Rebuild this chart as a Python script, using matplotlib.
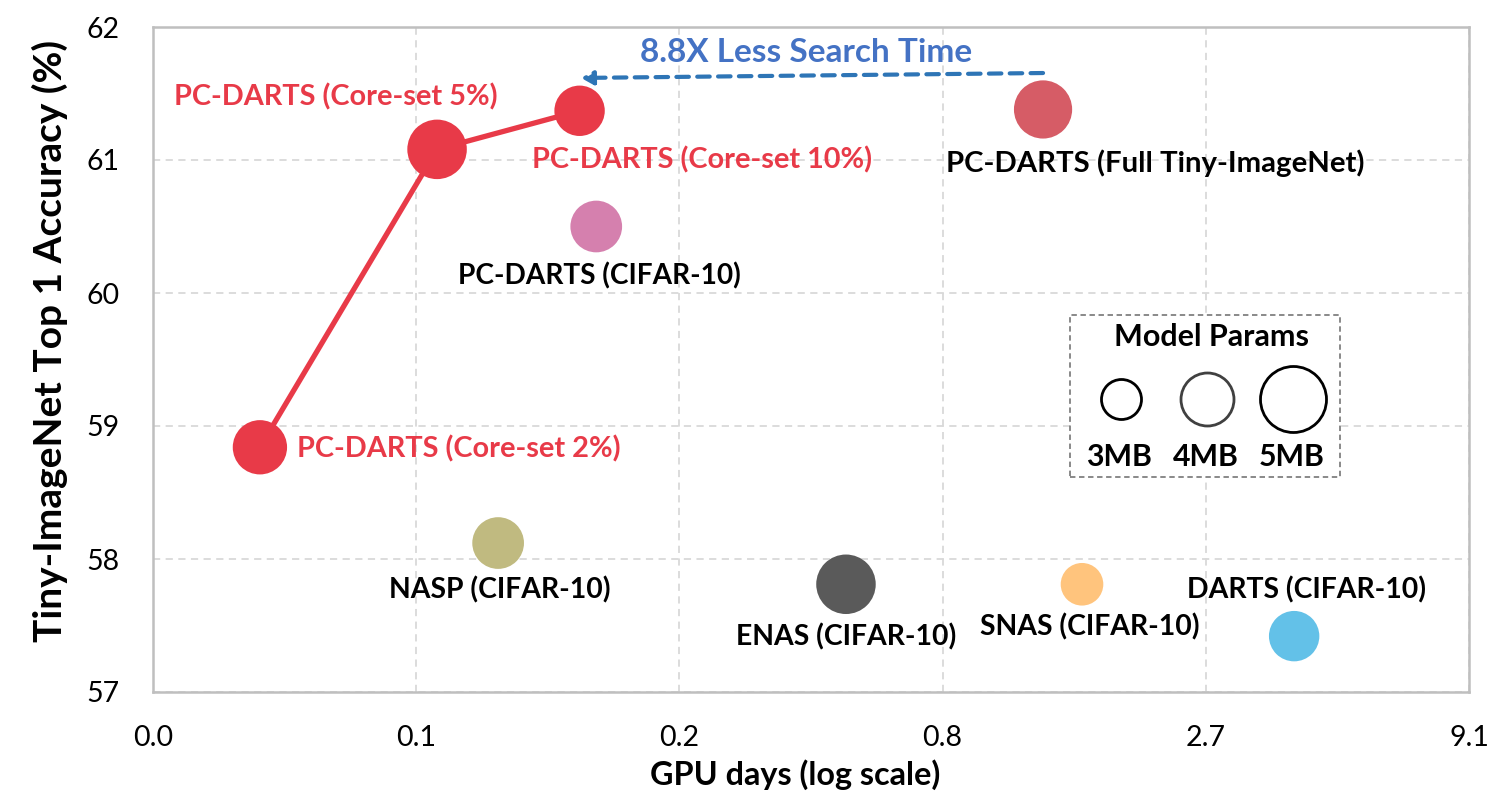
import matplotlib
matplotlib.use("Agg")
import matplotlib.pyplot as plt
from matplotlib.patches import Rectangle

plt.rcParams['font.family'] = ['Lato', 'DejaVu Sans']

# ---------------- data ----------------
names = ["PC-DARTS (Core-set 2%)", "PC-DARTS (Core-set 5%)", "PC-DARTS (Core-set 10%)",
         "PC-DARTS (Full Tiny-ImageNet)", "PC-DARTS (CIFAR-10)", "NASP (CIFAR-10)",
         "ENAS (CIFAR-10)", "SNAS (CIFAR-10)", "DARTS (CIFAR-10)"]
gpu_days = [0.0343, 0.0777, 0.150, 1.274, 0.162, 0.103, 0.513, 1.525, 4.06]
accuracy = [58.84, 61.08, 61.37, 61.38, 60.50, 58.12, 57.81, 57.81, 57.42]
params_mb = [4.1, 4.5, 3.8, 4.4, 3.9, 3.9, 4.5, 3.2, 3.8]
colors = ["#E83A48", "#E83A48", "#E83A48", "#D65C66", "#D580AE",
          "#C0BA80", "#5A5A5A", "#FFC47D", "#63C1E8"]
label_colors = ["#E83A48", "#E83A48", "#E83A48", "black", "black",
                "black", "black", "black", "black"]
coreset_idx = [0, 1, 2]

x_tick_values = [0.02094, 0.07055, 0.2378, 0.8013, 2.700, 9.1]
x_tick_labels = ["0.0", "0.1", "0.2", "0.8", "2.7", "9.1"]
y_ticks = [57, 58, 59, 60, 61, 62]
legend_mb = [3, 4, 5]

# ---------------- layout ----------------
W, H, DPI = 1506, 800, 100
fig = plt.figure(figsize=(W / DPI, H / DPI), dpi=DPI)
L, R, T, B = 153, 1469, 27, 692
ax = fig.add_axes([L / W, 1 - B / H, (R - L) / W, (B - T) / H])

def radius_px(mb):
    return 6.5 * mb + 0.5

def msize(mb):
    d_pt = 2 * radius_px(mb) * 72 / DPI
    return d_pt ** 2

ax.set_xscale('log')
ax.set_xlim(x_tick_values[0], x_tick_values[-1])
ax.set_ylim(57, 62)
ax.set_xticks(x_tick_values)
ax.set_xticklabels(x_tick_labels)
ax.xaxis.set_minor_locator(matplotlib.ticker.NullLocator())
ax.set_yticks(y_ticks)
ax.set_yticklabels([str(v) for v in y_ticks])
ax.tick_params(length=0, labelsize=20.5, colors='black')
ax.tick_params(axis='x', pad=24)
ax.tick_params(axis='y', pad=24)
ax.grid(True, color='#D9D9D9', linestyle=(0, (4, 3)), linewidth=1.3)
ax.set_axisbelow(True)
for s in ax.spines.values():
    s.set_color('#BFBFBF')
    s.set_linewidth(1.8)

# core-set line
ax.plot([gpu_days[i] for i in coreset_idx], [accuracy[i] for i in coreset_idx],
        color="#E83A48", lw=3.8, zorder=2)
ax.scatter(gpu_days, accuracy, s=[msize(m) for m in params_mb], c=colors,
           edgecolors='none', zorder=3)

# labels: (offset px, ha, fontsize)
label_pos = [((37, -2), 'left', 20.8), ((61, 52), 'right', 20.8), ((-48, -49), 'left', 20.8),
             ((112, -54), 'center', 21.2), ((3, -49), 'center', 20.2), ((2, -47), 'center', 20.4),
             ((0, -53), 'center', 20.4), ((8, -43), 'center', 20.4), ((12, 46), 'center', 20.4)]
for i, n in enumerate(names):
    (dx, dy), ha, fs = label_pos[i]
    ax.annotate(n, (gpu_days[i], accuracy[i]), xytext=(dx, dy), textcoords='offset pixels',
                ha=ha, va='center', fontsize=fs, fontweight='bold',
                color=label_colors[i], zorder=4)

# arrow 8.8X
x_full, y_arrow0 = gpu_days[3], 61.654
x_end, y_arrow1 = 0.151, 61.617
ax.annotate("", xy=(x_end, y_arrow1), xytext=(x_full, y_arrow0),
            arrowprops=dict(arrowstyle='-|>,head_length=0.7,head_width=0.4',
                            color='#2E75B6', lw=3, linestyle=(0, (3, 2)),
                            shrinkA=0, shrinkB=0), zorder=4)
ax.text(0.4962, 0.962, "8.8X Less Search Time", transform=ax.transAxes,
        ha='center', va='center', fontsize=24, fontweight='bold', color='#4472C4')

# legend box
def axf(px, py):
    return ((px - L) / (R - L), (B - py) / (B - T))

x0, y0 = axf(1070, 477)
x1, y1 = axf(1340, 315)
ax.add_patch(Rectangle((x0, y0), x1 - x0, y1 - y0, transform=ax.transAxes,
                       fill=True, facecolor='white', edgecolor='#808080',
                       linestyle=(0, (3, 2)), lw=1.3, zorder=5))
tx, ty = axf(1212, 337)
ax.text(tx, ty, "Model Params", transform=ax.transAxes, ha='center', va='center',
        fontsize=22, fontweight='bold', zorder=6)
leg_x = [1121, 1207, 1293]
leg_lab_x = [1119, 1206, 1292]
for k, mb in enumerate(legend_mb):
    cx, cy = axf(leg_x[k], 399)
    ax.scatter([cx], [cy], s=msize(mb), transform=ax.transAxes, facecolor='white',
               edgecolor='black' if k != 1 else '#404040', linewidth=2, zorder=6)
    lx, ly = axf(leg_lab_x[k], 457)
    ax.text(lx, ly, f"{mb}MB", transform=ax.transAxes, ha='center', va='center',
            fontsize=21.8, fontweight='bold', zorder=6)

fig.text(795 / W, 1 - 775 / H, "GPU days (log scale)", ha='center', va='center',
         fontsize=23.3, fontweight='bold')
fig.text(50 / W, 1 - 341 / H, "Tiny-ImageNet Top 1 Accuracy (%)", ha='center',
         va='center', rotation=90, fontsize=28, fontweight='bold')

fig.savefig("out.png", dpi=DPI)
